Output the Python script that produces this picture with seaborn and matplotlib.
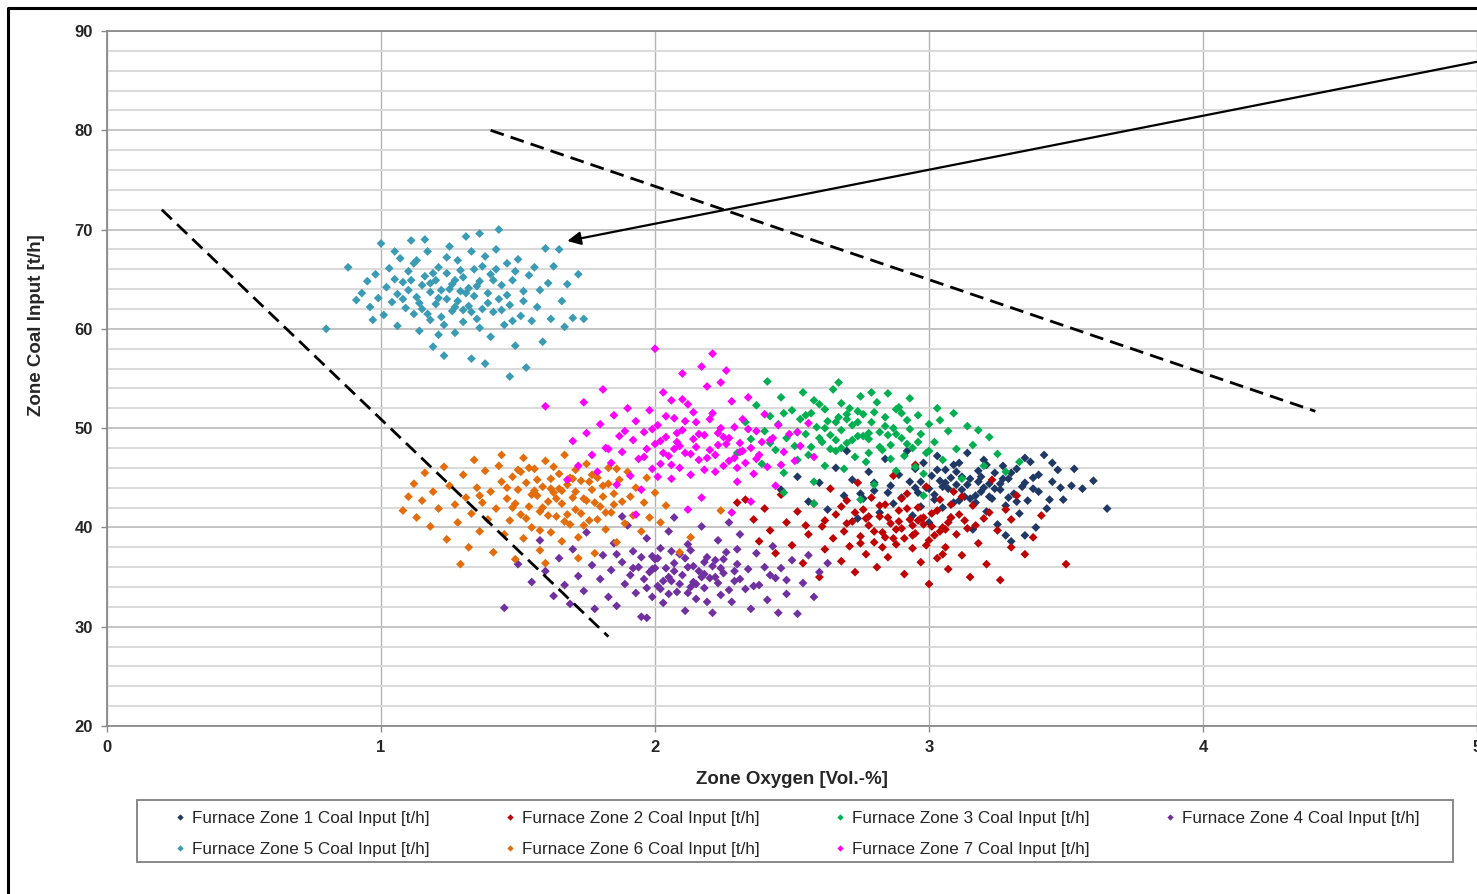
import pandas as pd
import numpy as np
import matplotlib.pyplot as plt
import seaborn as sns
from matplotlib.lines import Line2D
from matplotlib.patches import Rectangle
from matplotlib.ticker import MultipleLocator

sns.set_theme(style="white")
plt.rcParams['font.family'] = ['Liberation Sans', 'DejaVu Sans']

# === Data (Zone Oxygen [Vol.-%], Zone Coal Input [t/h]) ===
# outer spread of each cloud
zone1_x = [2.46, 2.52, 2.56, 2.60, 2.63, 2.66, 2.69, 2.72, 2.74, 2.76, 2.78, 2.80, 2.82, 2.84, 2.86, 2.87, 2.89, 2.90,
           2.92, 2.93, 2.94, 2.95, 2.96, 2.97, 2.98, 2.99, 3.00, 3.01, 3.02, 3.03, 3.04, 3.05, 3.06, 3.07, 3.08, 3.09,
           3.10, 3.11, 3.12, 3.13, 3.14, 3.15, 3.16, 3.17, 3.18, 3.19, 3.20, 3.21, 3.22, 3.23, 3.24, 3.25, 3.26, 3.27,
           3.28, 3.29, 3.30, 3.31, 3.32, 3.33, 3.34, 3.35, 3.36, 3.38, 3.39, 3.40, 3.42, 3.43, 3.45, 3.47, 3.49, 3.52,
           3.56, 3.65, 3.35, 3.05, 3.12, 3.18, 3.08, 3.22, 2.95, 3.15, 3.26, 2.70, 3.28]
zone1_y = [43.8, 45.1, 42.6, 44.5, 41.8, 46.0, 43.2, 44.8, 40.9, 42.9, 45.6, 43.7, 41.5, 46.9, 44.2, 42.4, 45.3, 43.0,
           47.7, 44.6, 41.2, 45.9, 43.5, 42.1, 46.5, 44.0, 40.5, 45.2, 43.3, 47.2, 44.7, 42.0, 45.8, 43.9, 41.0, 46.3,
           44.3, 42.7, 45.1, 43.1, 47.5, 44.9, 39.8, 42.5, 45.7, 43.6, 46.8, 41.6, 44.4, 42.9, 45.5, 40.3, 43.8, 46.2,
           42.2, 44.9, 38.6, 43.4, 45.9, 41.4, 44.1, 47.0, 42.7, 45.0, 40.0, 43.6, 47.3, 41.9, 44.6, 45.8, 42.8, 44.2,
           43.9, 41.9, 39.2, 44.1, 43.8, 44.6, 45.0, 43.1, 44.0, 42.9, 44.4, 47.7, 39.2]

zone2_x = [2.30, 2.33, 2.36, 2.38, 2.40, 2.42, 2.44, 2.46, 2.48, 2.50, 2.52, 2.54, 2.56, 2.58, 2.60, 2.61, 2.62, 2.64,
           2.65, 2.66, 2.68, 2.69, 2.70, 2.71, 2.72, 2.73, 2.74, 2.75, 2.76, 2.77, 2.78, 2.79, 2.80, 2.81, 2.82, 2.83,
           2.84, 2.85, 2.86, 2.87, 2.88, 2.89, 2.90, 2.91, 2.92, 2.93, 2.94, 2.95, 2.96, 2.97, 2.98, 2.99, 3.00, 3.00,
           3.01, 3.02, 3.03, 3.04, 3.05, 3.06, 3.07, 3.08, 3.09, 3.10, 3.12, 3.13, 3.15, 3.16, 3.18, 3.20, 3.21, 3.23,
           3.25, 3.26, 3.28, 3.30, 3.32, 3.35, 3.38, 3.41, 3.50, 2.88, 2.94, 2.84, 2.98, 3.04, 2.78, 2.91, 3.07, 2.95]
zone2_y = [42.5, 42.8, 40.8, 38.6, 41.9, 39.7, 37.4, 43.3, 40.5, 38.2, 41.6, 36.4, 39.3, 42.4, 35.0, 40.1, 37.8, 43.9,
           38.9, 41.3, 36.6, 39.6, 42.7, 38.1, 40.6, 35.5, 44.5, 39.1, 41.8, 37.3, 40.2, 43.0, 38.5, 36.0, 41.1, 39.5,
           42.3, 37.0, 40.4, 45.2, 38.3, 41.7, 39.9, 35.3, 43.4, 40.8, 37.9, 39.4, 42.0, 36.5, 40.3, 44.1, 34.3, 38.7,
           41.4, 39.2, 36.9, 42.8, 40.0, 38.0, 35.8, 41.0, 43.6, 39.3, 37.2, 40.7, 35.0, 42.2, 38.4, 40.9, 36.3, 44.8,
           39.7, 34.7, 41.8, 38.0, 43.2, 37.3, 39.0, 41.2, 36.3, 39.8, 40.2, 39.0, 41.0, 39.6, 41.1, 38.9, 40.5, 46.3]

zone3_x = [2.30, 2.33, 2.35, 2.37, 2.39, 2.40, 2.41, 2.42, 2.44, 2.45, 2.46, 2.47, 2.48, 2.50, 2.51, 2.52, 2.53, 2.54,
           2.55, 2.56, 2.57, 2.58, 2.59, 2.60, 2.61, 2.62, 2.63, 2.64, 2.65, 2.66, 2.67, 2.67, 2.68, 2.69, 2.70, 2.71,
           2.72, 2.73, 2.74, 2.75, 2.76, 2.77, 2.78, 2.79, 2.80, 2.81, 2.82, 2.83, 2.84, 2.85, 2.86, 2.87, 2.88, 2.89,
           2.90, 2.91, 2.92, 2.93, 2.94, 2.95, 2.96, 2.97, 2.98, 2.99, 3.00, 3.02, 3.03, 3.05, 3.07, 3.09, 3.10, 3.12,
           3.14, 3.16, 3.18, 3.20, 3.22, 3.25, 3.28, 3.33, 2.58, 2.47, 2.75, 2.62, 2.70, 2.78, 2.66, 2.85, 2.92, 2.74]
zone3_y = [47.5, 50.6, 48.9, 52.3, 46.4, 49.7, 54.7, 51.2, 47.8, 50.4, 53.1, 45.5, 49.0, 51.8, 48.2, 46.8, 50.9, 53.6,
           49.4, 47.3, 51.5, 44.6, 50.1, 52.4, 48.6, 46.2, 50.7, 49.3, 53.9, 47.7, 54.6, 51.1, 49.8, 45.9, 48.5, 52.0,
           50.3, 47.1, 49.2, 53.2, 51.4, 46.6, 48.9, 50.6, 44.3, 52.6, 49.6, 47.8, 51.1, 53.5, 48.3, 50.0, 45.7, 52.1,
           49.0, 47.2, 50.8, 53.0, 48.0, 46.1, 51.3, 49.4, 43.2, 47.5, 50.4, 48.6, 52.0, 46.8, 49.7, 51.5, 47.9, 44.9,
           50.2, 48.3, 49.8, 46.2, 49.1, 47.4, 45.6, 46.6, 42.4, 43.5, 42.8, 50.0, 50.9, 49.5, 48.8, 49.3, 48.4, 51.7]

zone4_x = [1.45, 1.50, 1.55, 1.58, 1.60, 1.63, 1.65, 1.67, 1.69, 1.70, 1.72, 1.74, 1.75, 1.77, 1.78, 1.80, 1.81, 1.83,
           1.84, 1.85, 1.86, 1.88, 1.89, 1.90, 1.91, 1.92, 1.93, 1.94, 1.95, 1.96, 1.97, 1.98, 1.99, 2.00, 2.01, 2.02,
           2.03, 2.04, 2.05, 2.06, 2.07, 2.08, 2.09, 2.10, 2.11, 2.12, 2.13, 2.14, 2.15, 2.16, 2.17, 2.18, 2.19, 2.20,
           2.21, 2.22, 2.23, 2.24, 2.25, 2.26, 2.28, 2.29, 2.30, 2.31, 2.33, 2.34, 2.35, 2.37, 2.38, 2.40, 2.41, 2.43,
           2.44, 2.46, 2.48, 2.50, 2.52, 2.54, 2.56, 2.58, 2.60, 2.63, 2.07, 2.27, 1.97, 2.45, 2.05, 2.12, 2.18, 2.02,
           2.14, 2.22, 1.99, 1.88]
zone4_y = [31.9, 36.3, 34.5, 38.7, 35.6, 33.1, 36.9, 34.2, 32.3, 37.8, 35.1, 33.6, 39.5, 36.2, 31.8, 34.8, 37.2, 33.0,
           35.7, 38.4, 32.1, 36.5, 34.3, 40.2, 35.2, 37.6, 33.4, 36.0, 31.0, 34.8, 38.9, 35.5, 33.0, 36.8, 34.1, 37.9,
           32.4, 35.9, 39.6, 34.6, 36.4, 33.5, 37.3, 35.2, 31.6, 38.3, 34.0, 36.1, 32.8, 35.6, 40.1, 33.9, 37.0, 34.9,
           31.4, 36.7, 38.7, 33.2, 35.4, 37.5, 32.5, 34.6, 36.3, 39.3, 33.8, 35.8, 31.8, 37.4, 34.2, 36.0, 32.7, 38.1,
           34.9, 35.9, 33.3, 36.7, 31.3, 34.4, 37.2, 33.0, 35.5, 36.4, 41.0, 40.5, 30.9, 31.4, 35.0, 36.0, 35.3, 33.8,
           34.5, 35.0, 37.1, 41.1]

zone5_x = [0.80, 0.88, 0.91, 0.93, 0.95, 0.96, 0.98, 0.99, 1.00, 1.01, 1.02, 1.03, 1.04, 1.05, 1.06, 1.06, 1.07, 1.08,
           1.09, 1.10, 1.10, 1.11, 1.12, 1.12, 1.13, 1.14, 1.15, 1.15, 1.16, 1.17, 1.18, 1.18, 1.19, 1.20, 1.20, 1.21,
           1.22, 1.22, 1.23, 1.24, 1.24, 1.25, 1.26, 1.26, 1.27, 1.28, 1.28, 1.29, 1.30, 1.30, 1.31, 1.32, 1.32, 1.33,
           1.34, 1.34, 1.35, 1.36, 1.36, 1.37, 1.38, 1.38, 1.39, 1.40, 1.40, 1.41, 1.42, 1.43, 1.43, 1.44, 1.45, 1.46,
           1.47, 1.47, 1.48, 1.49, 1.50, 1.51, 1.52, 1.53, 1.54, 1.55, 1.56, 1.57, 1.58, 1.59, 1.60, 1.61, 1.62, 1.63,
           1.65, 1.66, 1.67, 1.68, 1.70, 1.72, 1.74, 1.16, 1.05, 0.97]
zone5_y = [60.0, 66.2, 62.9, 63.6, 64.8, 62.2, 65.5, 63.1, 68.6, 61.4, 64.2, 66.1, 62.7, 65.0, 63.5, 60.3, 67.1, 64.7,
           62.1, 65.8, 63.9, 68.9, 61.5, 66.6, 63.2, 59.8, 64.4, 62.0, 65.3, 67.8, 63.7, 60.9, 58.2, 64.9, 62.5, 66.2,
           61.2, 63.9, 57.3, 65.6, 63.0, 68.3, 61.8, 64.5, 59.6, 66.9, 62.8, 63.8, 65.2, 60.7, 69.3, 62.3, 64.1, 57.0,
           66.0, 63.3, 61.0, 69.6, 64.8, 62.0, 56.5, 67.3, 63.6, 59.2, 65.5, 61.7, 68.0, 70.0, 63.0, 64.4, 60.4, 66.6,
           55.2, 62.4, 64.9, 58.3, 67.0, 61.3, 63.8, 56.1, 65.4, 60.8, 66.2, 62.2, 63.9, 58.7, 68.1, 64.6, 61.0, 66.3,
           68.0, 62.8, 60.2, 64.5, 61.1, 65.5, 61.0, 69.0, 67.8, 60.9]

zone6_x = [1.08, 1.10, 1.12, 1.13, 1.15, 1.16, 1.18, 1.19, 1.21, 1.23, 1.24, 1.25, 1.27, 1.28, 1.30, 1.31, 1.32, 1.33,
           1.34, 1.35, 1.36, 1.37, 1.38, 1.39, 1.40, 1.41, 1.42, 1.43, 1.44, 1.45, 1.46, 1.47, 1.48, 1.49, 1.50, 1.51,
           1.52, 1.52, 1.53, 1.54, 1.55, 1.56, 1.57, 1.58, 1.58, 1.59, 1.60, 1.61, 1.62, 1.62, 1.63, 1.64, 1.65, 1.66,
           1.66, 1.67, 1.68, 1.69, 1.70, 1.71, 1.71, 1.72, 1.73, 1.74, 1.75, 1.76, 1.77, 1.78, 1.79, 1.80, 1.81, 1.82,
           1.83, 1.84, 1.85, 1.86, 1.87, 1.88, 1.89, 1.90, 1.91, 1.92, 1.93, 1.95, 1.96, 1.97, 1.98, 2.00, 2.02, 2.04,
           1.60, 1.72, 1.44, 1.29, 1.36, 1.48, 1.56, 1.64, 1.76, 1.68, 2.24, 2.13, 2.09]
zone6_y = [41.7, 43.1, 44.4, 41.0, 42.7, 45.5, 40.1, 43.6, 41.9, 46.1, 38.8, 44.2, 42.3, 40.5, 45.3, 43.0, 38.0, 41.4,
           46.8, 44.0, 39.6, 42.5, 45.7, 40.8, 43.6, 37.5, 41.9, 46.2, 44.6, 39.3, 42.9, 40.7, 45.1, 36.8, 43.8, 41.3,
           47.0, 38.9, 44.5, 42.1, 40.0, 45.9, 43.2, 41.6, 37.7, 44.1, 46.7, 42.6, 39.5, 44.9, 43.5, 41.1, 45.4, 38.6,
           42.4, 47.3, 44.3, 40.3, 43.0, 45.8, 41.8, 39.0, 44.7, 42.9, 46.4, 40.7, 43.8, 37.4, 45.0, 42.1, 44.2, 39.8,
           46.0, 41.5, 43.4, 38.5, 44.8, 42.6, 40.4, 45.6, 43.1, 41.2, 44.0, 39.6, 42.5, 45.0, 41.0, 43.5, 40.5, 42.2,
           36.4, 36.9, 47.3, 36.3, 43.2, 42.0, 43.7, 42.9, 44.6, 41.3, 41.7, 39.0, 37.5]

zone7_x = [1.60, 1.68, 1.70, 1.72, 1.74, 1.75, 1.77, 1.79, 1.80, 1.81, 1.82, 1.84, 1.85, 1.86, 1.87, 1.88, 1.90, 1.91,
           1.92, 1.93, 1.94, 1.95, 1.96, 1.97, 1.98, 1.99, 2.00, 2.00, 2.01, 2.02, 2.03, 2.04, 2.05, 2.06, 2.07, 2.08,
           2.09, 2.10, 2.10, 2.11, 2.12, 2.13, 2.14, 2.15, 2.16, 2.17, 2.18, 2.19, 2.20, 2.21, 2.21, 2.22, 2.23, 2.24,
           2.25, 2.26, 2.27, 2.28, 2.29, 2.30, 2.31, 2.32, 2.33, 2.34, 2.35, 2.36, 2.37, 2.38, 2.40, 2.41, 2.42, 2.44,
           2.45, 2.47, 2.49, 2.51, 2.53, 2.56, 2.58, 2.12, 2.28, 2.35, 2.17, 2.24, 2.06, 1.93, 2.03, 2.15, 2.19, 2.26,
           2.08, 2.32]
zone7_y = [52.2, 44.8, 48.7, 46.2, 52.6, 49.5, 47.3, 45.6, 50.4, 53.9, 48.0, 46.5, 51.3, 44.3, 49.2, 47.6, 52.0, 45.2,
           48.8, 50.7, 46.9, 43.8, 49.6, 47.9, 51.8, 45.9, 58.0, 48.4, 50.3, 46.4, 53.6, 49.1, 47.2, 44.9, 51.0, 48.6,
           46.0, 55.5, 49.8, 47.5, 52.4, 45.3, 48.9, 50.6, 46.8, 43.0, 49.3, 54.2, 47.8, 57.5, 51.5, 45.6, 48.3, 50.0,
           46.2, 55.8, 49.0, 52.7, 47.0, 44.6, 48.5, 50.9, 46.5, 53.1, 48.0, 45.4, 49.7, 47.3, 51.4, 46.1, 48.8, 44.2,
           50.3, 47.6, 49.4, 46.7, 48.2, 50.5, 47.1, 41.8, 41.5, 42.6, 56.2, 54.6, 52.8, 41.3, 47.5, 48.1, 47.0, 48.4,
           49.5, 47.7]

# extra points in the dense cores of each cloud
zone1_core_x = [2.97, 3.00, 3.03, 3.06, 3.09, 3.11, 3.14, 3.17, 3.19, 3.21, 3.24, 3.27, 3.30, 3.32, 3.35, 3.37, 3.40,
                3.44, 3.48, 3.02, 3.10, 3.20, 3.29, 3.38, 2.85, 2.80, 2.75, 3.53, 3.60, 3.45]
zone1_core_y = [44.6, 43.9, 45.8, 44.5, 42.5, 46.5, 44.3, 43.2, 45.1, 46.3, 43.9, 44.9, 45.5, 42.6, 44.5, 46.6, 45.3,
                42.8, 44.0, 42.8, 45.6, 44.0, 43.0, 43.9, 43.5, 44.5, 43.4, 45.9, 44.7, 46.5]
zone2_core_x = [2.70, 2.73, 2.75, 2.77, 2.80, 2.82, 2.85, 2.87, 2.89, 2.92, 2.94, 2.96, 2.99, 3.01, 3.03, 3.06, 3.08,
                3.11, 3.14, 3.17, 2.83, 2.90, 2.97, 3.05, 3.12, 2.62, 2.68, 3.22, 3.30, 2.55]
zone2_core_y = [40.4, 41.5, 38.4, 40.9, 39.6, 42.2, 41.0, 38.9, 40.6, 41.9, 39.2, 40.7, 38.2, 40.1, 41.7, 39.8, 42.3,
                41.3, 39.9, 40.2, 38.0, 42.9, 40.9, 37.3, 43.1, 40.7, 42.1, 41.5, 40.8, 40.2]
zone3_core_x = [2.52, 2.55, 2.57, 2.60, 2.62, 2.64, 2.66, 2.68, 2.70, 2.72, 2.74, 2.76, 2.78, 2.80, 2.82, 2.84, 2.86,
                2.88, 2.90, 2.93, 2.96, 3.00, 3.04, 2.58, 2.68, 2.79, 2.88, 2.47, 2.42, 2.98]
zone3_core_y = [49.6, 51.3, 48.1, 49.0, 51.9, 47.9, 50.6, 48.0, 51.4, 48.8, 50.6, 49.2, 47.5, 51.6, 48.1, 50.2, 46.9,
                49.4, 51.5, 49.9, 48.6, 47.7, 50.8, 52.8, 52.5, 53.6, 51.9, 51.5, 48.5, 45.4]
zone4_core_x = [1.92, 1.95, 1.97, 1.99, 2.01, 2.03, 2.05, 2.07, 2.09, 2.11, 2.13, 2.15, 2.17, 2.19, 2.21, 2.23, 2.25,
                2.27, 2.29, 2.31, 2.00, 2.06, 2.12, 2.18, 2.24, 2.30, 2.36, 2.42, 2.48, 1.86]
zone4_core_y = [35.9, 37.0, 33.9, 35.8, 36.9, 34.6, 33.3, 35.6, 34.3, 36.9, 37.7, 34.3, 35.0, 32.5, 36.1, 34.4, 36.8,
                33.7, 35.6, 34.8, 35.9, 37.6, 33.4, 36.5, 35.9, 37.8, 34.1, 35.2, 34.7, 37.3]
zone5_core_x = [1.08, 1.11, 1.14, 1.17, 1.19, 1.21, 1.23, 1.25, 1.27, 1.29, 1.31, 1.33, 1.35, 1.37, 1.39, 1.41, 1.44,
                1.46, 1.49, 1.52, 1.13, 1.18, 1.24, 1.30, 1.36, 1.42, 1.48, 1.27, 1.33, 1.21]
zone5_core_y = [63.0, 64.9, 62.6, 61.5, 65.6, 63.1, 60.4, 64.0, 62.2, 65.9, 63.6, 61.7, 64.3, 66.3, 62.6, 64.9, 61.9,
                63.4, 65.8, 62.8, 66.9, 64.6, 67.2, 61.9, 60.1, 66.0, 60.8, 64.9, 67.8, 59.4]
zone6_core_x = [1.46, 1.49, 1.51, 1.53, 1.55, 1.57, 1.59, 1.61, 1.63, 1.65, 1.67, 1.69, 1.71, 1.73, 1.75, 1.77, 1.79,
                1.81, 1.83, 1.85, 1.54, 1.62, 1.70, 1.78, 1.86, 1.58, 1.66, 1.74, 1.82, 1.50]
zone6_core_y = [44.0, 42.4, 45.6, 40.9, 43.3, 44.8, 42.0, 41.2, 46.1, 43.9, 40.6, 45.0, 43.6, 41.4, 42.7, 45.3, 40.8,
                43.1, 44.4, 42.3, 46.0, 43.9, 44.9, 42.5, 45.9, 39.7, 43.7, 40.2, 41.5, 45.8]
zone7_core_x = [1.96, 1.99, 2.02, 2.04, 2.06, 2.09, 2.11, 2.13, 2.16, 2.18, 2.20, 2.22, 2.25, 2.27, 2.29, 2.31, 2.34,
                2.37, 2.39, 2.43, 2.01, 2.07, 2.14, 2.23, 2.30, 1.89, 1.83, 2.46, 2.52, 2.10]
zone7_core_y = [47.1, 49.9, 48.7, 51.2, 46.3, 48.2, 50.7, 47.4, 49.4, 45.8, 50.9, 47.3, 49.1, 46.7, 50.1, 47.6, 49.9,
                46.9, 48.6, 49.0, 45.1, 47.9, 51.6, 49.5, 46.0, 49.7, 47.9, 46.3, 49.6, 52.9]

zone_labels = ["Furnace Zone 1 Coal Input [t/h]", "Furnace Zone 2 Coal Input [t/h]",
               "Furnace Zone 3 Coal Input [t/h]", "Furnace Zone 4 Coal Input [t/h]",
               "Furnace Zone 5 Coal Input [t/h]", "Furnace Zone 6 Coal Input [t/h]",
               "Furnace Zone 7 Coal Input [t/h]"]
zone_colors = ["#1f3864", "#c00000", "#00b050", "#7030a0", "#3a9bb4", "#e46c0a", "#ff00ff"]

# hand drawn guide lines (x list, y list) and the arrow (tail, head)
left_line_x, left_line_y = [0.20, 1.83], [72.0, 29.0]
right_line_x, right_line_y = [1.40, 4.41], [80.0, 51.7]
arrow_tail, arrow_head = (5.0, 86.9), (1.68, 68.85)

# === Build one long table, zone 1 first so later zones sit on top ===
xs = [zone1_x + zone1_core_x, zone2_x + zone2_core_x, zone3_x + zone3_core_x, zone4_x + zone4_core_x,
      zone5_x + zone5_core_x, zone6_x + zone6_core_x, zone7_x + zone7_core_x]
ys = [zone1_y + zone1_core_y, zone2_y + zone2_core_y, zone3_y + zone3_core_y, zone4_y + zone4_core_y,
      zone5_y + zone5_core_y, zone6_y + zone6_core_y, zone7_y + zone7_core_y]
frames = []
for lab, x, y in zip(zone_labels, xs, ys):
    frames.append(pd.DataFrame({"oxygen": x, "coal": y, "zone": lab}))
data = pd.concat(frames, ignore_index=True)

# === Plot ===
fig = plt.figure(figsize=(14.77, 8.94), dpi=100)
ax = fig.add_axes([107 / 1477, 1 - 726 / 894, 1 - 107 / 1477, 695 / 894])

sns.scatterplot(data=data, x="oxygen", y="coal", hue="zone", hue_order=zone_labels,
                palette=dict(zip(zone_labels, zone_colors)), marker="D", s=20,
                linewidth=0, legend=False, ax=ax, zorder=3)

ax.plot(left_line_x, left_line_y, color="black", lw=2.0, ls=(0, (5, 2.6)), zorder=4)
ax.plot(right_line_x, right_line_y, color="black", lw=2.0, ls=(0, (5, 2.6)), zorder=4)
ax.annotate("", xy=arrow_head, xytext=arrow_tail,
            arrowprops=dict(arrowstyle="-|>", color="black", lw=1.6, mutation_scale=20, shrinkA=0, shrinkB=0),
            zorder=5)

ax.set_xlim(0, 5)
ax.set_ylim(20, 90)
ax.xaxis.set_major_locator(MultipleLocator(1))
ax.yaxis.set_major_locator(MultipleLocator(10))
ax.yaxis.set_minor_locator(MultipleLocator(2))
ax.grid(axis="y", which="minor", color="#d9d9d9", lw=1.4, zorder=0)
ax.grid(axis="y", which="major", color="#c4c4c4", lw=1.4, zorder=0)
ax.grid(axis="x", which="major", color="#b4b4b4", lw=1.0, zorder=0)
ax.set_axisbelow(True)

for side in ["left", "bottom", "top"]:
    ax.spines[side].set_color("#8a8a8a")
    ax.spines[side].set_linewidth(1.3)
ax.spines["right"].set_visible(False)

ax.tick_params(axis="both", which="major", direction="out", length=4, width=1, color="#8a8a8a",
               labelsize=12, pad=6, bottom=True, left=True)
ax.tick_params(axis="y", which="minor", length=0)
for lbl in ax.get_xticklabels() + ax.get_yticklabels():
    lbl.set_fontweight("bold")

ax.set_xlabel("Zone Oxygen [Vol.-%]", fontsize=13.5, fontweight="bold")
ax.set_ylabel("Zone Coal Input [t/h]", fontsize=13.5, fontweight="bold")
ax.xaxis.set_label_coords(0.5, -0.065)
ax.yaxis.set_label_coords(-0.045, 0.577)

# === Legend: row-major order inside a framed box below the plot ===
handles = [Line2D([], [], marker="D", ls="none", color=c, markersize=3.2, markeredgewidth=0)
           for c in zone_colors]
order = [0, 4, 1, 5, 2, 6, 3]
fig.legend([handles[i] for i in order], [zone_labels[i] for i in order], ncol=4,
           loc="center", bbox_to_anchor=(175 / 1477, 1 - 851 / 894, (1420 - 175) / 1477, 34 / 894),
           mode="expand", frameon=False, fontsize=12.3, handlelength=0.6, handletextpad=0.4,
           labelspacing=0.95, borderpad=0, borderaxespad=0)
fig.add_artist(Rectangle((137 / 1477, 1 - 862 / 894), (1453 - 137) / 1477, 62 / 894,
                         transform=fig.transFigure, fill=False, edgecolor="#7f7f7f", lw=1.3))

# outer frame of the original chart object
fig.add_artist(Line2D([8 / 1477, 8 / 1477, 1.0], [0.0, 1 - 8 / 894, 1 - 8 / 894],
                      transform=fig.transFigure, color="black", lw=2.2))

plt.savefig("out.png", dpi=100)
